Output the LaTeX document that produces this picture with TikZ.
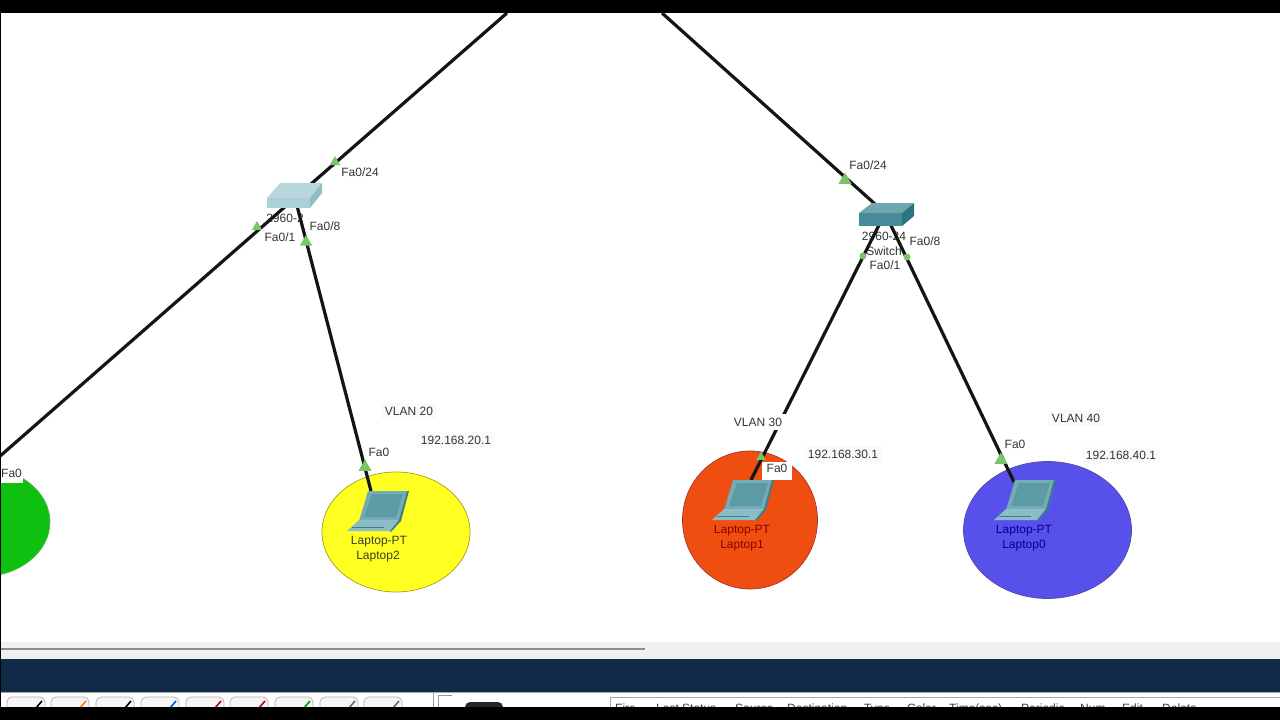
\documentclass[tikz,border=0pt]{standalone}
\usepackage{fontspec}
\setmainfont{Liberation Sans}
\usetikzlibrary{shapes.geometric}
\definecolor{navybar}{HTML}{102A48}
\definecolor{portgreen}{HTML}{78C468}
\definecolor{labelbg}{HTML}{F9FAFB}
\definecolor{lapframe}{HTML}{74ACB6}
\definecolor{lapinner}{HTML}{5C9AA6}
\definecolor{lapbase}{HTML}{8CBDC6}
\definecolor{lapside}{HTML}{3C7F8C}
\definecolor{swAtop}{HTML}{B8D8DE}
\definecolor{swAfront}{HTML}{AAD0D8}
\definecolor{swAside}{HTML}{92BCC4}
\definecolor{swBtop}{HTML}{70A6AE}
\definecolor{swBfront}{HTML}{468C98}
\definecolor{swBside}{HTML}{2E7480}
\definecolor{zonegreen}{HTML}{10C010}
\definecolor{zoneyellow}{HTML}{FFFF22}
\definecolor{zonered}{HTML}{F04E10}
\definecolor{zoneblue}{HTML}{5850EA}
\tikzset{
  link/.style={line width=3.2pt,black!92},
  portmark/.style={regular polygon,regular polygon sides=3,fill=portgreen,inner sep=0pt},
  portdot/.style={circle,fill=portgreen,inner sep=0pt,minimum size=7pt},
  portlabel/.style={font=\fontsize{12}{12}\selectfont,text=black!80,inner sep=1.5pt},
  vlanlabel/.style={portlabel,fill=labelbg,inner sep=4pt},
  devlabel/.style={font=\fontsize{12}{12}\selectfont,inner sep=0pt},
  zone/.style={ellipse,draw,line width=0.7pt,inner sep=0pt},
  toolbtn/.style={draw=black!30,fill=black!4,rounded corners=5pt,line width=0.7pt},
  headcell/.style={font=\fontsize{12}{12}\selectfont,text=black!75,inner sep=0pt,anchor=base west},
}
% switch icon: x, y of the front corner, depth, height, then the three face colours
\newcommand{\switchicon}[7]{
  \fill[#5] (#1,#2) -- ++(13,-#3) -- ++(42,0) -- ++(-12,#3) -- cycle;
  \fill[#6] (#1,#2) rectangle ++(43,#4);
  \fill[#7] (#1+43,#2) -- ++(12,-#3) -- ++(0,#4) -- ++(-12,#3) -- cycle;
}
% laptop icon: x, y of the screen's upper left corner
\newcommand{\laptopicon}[2]{
  \begin{scope}[shift={(#1,#2)}]
    \fill[lapframe] (0,0) -- (39,0) -- (31,30) -- (-9,30) -- cycle;
    \fill[lapinner] (4,3) -- (35,3) -- (28,26) -- (-4,26) -- cycle;
    \fill[lapbase] (-9,29) -- (31,29) -- (23,40) -- (-21,40) -- cycle;
    \fill[lapside] (39,0) -- (41,0) -- (33,30) -- (23,41) -- (22,40) -- (31,29) -- cycle;
    \draw[lapside,line width=0.5pt] (-16,36) -- (16,36);
  \end{scope}
}
\begin{document}
\begin{tikzpicture}[x=1pt,y=-1pt]
  \clip (0,0) rectangle (1280,720);
  \fill[white] (0,0) rectangle (1280,720);

  % vlan zones
  \node[zone,fill=zonegreen,draw=green!60!black!70,minimum width=140pt,minimum height=110pt] (zoneA) at (-20,522) {};
  \node[zone,fill=zoneyellow,draw=olive!80,minimum width=148pt,minimum height=120pt] (zoneB) at (396,532) {};
  \node[zone,fill=zonered,draw=red!60!black!80,minimum width=135pt,minimum height=138pt] (zoneC) at (750,520) {};
  \node[zone,fill=zoneblue,draw=blue!50!black!70,minimum width=168pt,minimum height=137pt] (zoneD) at (1047.5,530) {};

  % device names lie under the cables
  \node[devlabel,text=black!80] (nameSwA) at (285,218) {2960-2};
  \node[devlabel,text=black!80] (nameSwB) at (884,236) {2960-24};
  \node[devlabel,text=black!80] (typeSwB) at (884,251) {Switch};

  % anchors
  \coordinate (upA) at (507,13);
  \coordinate (upB) at (662,13);
  \coordinate (swA) at (295,198);
  \coordinate (swB) at (885,213);
  \coordinate (lapA) at (-1,457);
  \coordinate (lapB) at (371,491);
  \coordinate (lapC) at (751,480);
  \coordinate (lapD) at (1014,482);

  % cables
  \draw[link] (upA) -- (swA);
  \draw[link] (swA) -- (lapA);
  \draw[link] (swA) -- (lapB);
  \draw[link] (upB) -- (swB);
  \draw[link] (swB) -- (lapC);
  \draw[link] (swB) -- (lapD);

  % switches
  \switchicon{267}{198}{15}{10}{swAtop}{swAfront}{swAside}
  \switchicon{859}{213}{10}{13}{swBtop}{swBfront}{swBside}

  % laptops
  \laptopicon{368}{491}
  \laptopicon{733}{480}
  \laptopicon{1015}{480}
  \node[devlabel,text=black!75!olive] (typeB) at (379,542) {Laptop-PT};
  \node[devlabel,text=black!75!olive] (nameB) at (378,557) {Laptop2};
  \node[devlabel,text=red!55!black] (typeC) at (742,531) {Laptop-PT};
  \node[devlabel,text=red!55!black] (nameC) at (742,546) {Laptop1};
  \node[devlabel,text=blue!60!black] (typeD) at (1024,531) {Laptop-PT};
  \node[devlabel,text=blue!60!black] (nameD) at (1024,546) {Laptop0};

  % port marks
  \node[portmark,minimum size=12pt] (markA) at (335,162) {};
  \node[portmark,minimum size=12pt] (markB) at (257,227) {};
  \node[portmark,minimum size=14pt] (markC) at (306,242) {};
  \node[portmark,minimum size=15pt] (markD) at (365,467) {};
  \node[portmark,minimum size=15pt] (markE) at (845,180) {};
  \node[portdot] (markF) at (863,256) {};
  \node[portdot] (markG) at (907,257) {};
  \node[portmark,minimum size=15pt] (markH) at (1001,460) {};
  \node[portmark,minimum size=11pt] (markI) at (761,457) {};

  % port labels
  \node[portlabel] (portA) at (360,172) {Fa0/24};
  \node[portlabel] (portB) at (280,237) {Fa0/1};
  \node[portlabel] (portC) at (325,226) {Fa0/8};
  \node[portlabel] (portD) at (379,452) {Fa0};
  \node[portlabel] (portE) at (868,165) {Fa0/24};
  \node[portlabel,fill=white,inner sep=3pt] (portF) at (885,265) {Fa0/1};
  \node[portlabel] (portG) at (925,241) {Fa0/8};
  \node[portlabel] (portH) at (1015,444) {Fa0};
  \node[portlabel,fill=white,anchor=base,text height=10pt,text depth=8pt,inner ysep=0pt,inner xsep=5pt] (portI) at (777,472) {Fa0};
  \node[portlabel,fill=white,anchor=west,inner xsep=1pt,inner ysep=6pt] (portJ) at (0,473) {Fa0};

  % vlan and address labels
  \node[vlanlabel] (vlanB) at (409,411) {VLAN 20};
  \node[vlanlabel] (ipB) at (456,440) {192.168.20.1};
  \node[vlanlabel,fill=white] (vlanC) at (758,422) {VLAN 30};
  \node[vlanlabel] (ipC) at (843,454) {192.168.30.1};
  \node[vlanlabel] (vlanD) at (1076,418) {VLAN 40};
  \node[vlanlabel] (ipD) at (1121,455) {192.168.40.1};

  % window bars
  \fill[black!6] (0,642) rectangle (1280,659);
  \draw[black!45,line width=2pt] (0,649) -- (645,649);
  \fill[navybar] (0,659) rectangle (1280,692);
  \draw[black!35,line width=0.8pt] (0,692.5) -- (1280,692.5);
  \foreach \bx/\bcol in {7/black,51/orange,96/black,141/blue!70!cyan,186/red!75!black,230/red!75!black,275/green!60!black,320/black!60,364/black!60}{
    \draw[toolbtn] (\bx,715) -- (\bx,697) -- (\bx+38,697) -- (\bx+38,715);
    \draw[\bcol,line width=1.6pt] (\bx+29,708) -- (\bx+35,701);
  }
  \draw[black!40,line width=0.7pt] (433,693) -- (433,712);
  \draw[black!40,line width=0.7pt] (438,712) -- (438,695) -- (452,695);
  \fill[black!85,rounded corners=5pt] (465,702) rectangle (503,715);
  \draw[black!35,line width=0.7pt] (610,712) -- (610,697) -- (1280,697);

  % table head, cut off by the bottom band
  \node[headcell] (colFire) at (615,712) {Fire};
  \node[headcell] (colStatus) at (656,712) {Last Status};
  \node[headcell] (colSource) at (735,712) {Source};
  \node[headcell] (colDest) at (787,712) {Destination};
  \node[headcell] (colType) at (864,712) {Type};
  \node[headcell] (colColor) at (907,712) {Color};
  \node[headcell] (colTime) at (949,712) {Time(sec)};
  \node[headcell] (colPeriodic) at (1021,712) {Periodic};
  \node[headcell] (colNum) at (1080,712) {Num};
  \node[headcell] (colEdit) at (1122,712) {Edit};
  \node[headcell] (colDelete) at (1162,712) {Delete};

  % video bands
  \fill[black] (0,0) rectangle (1280,13);
  \fill[black] (0,707) rectangle (1280,720);
  \fill[black] (0,0) rectangle (1,720);
\end{tikzpicture}
\end{document}
